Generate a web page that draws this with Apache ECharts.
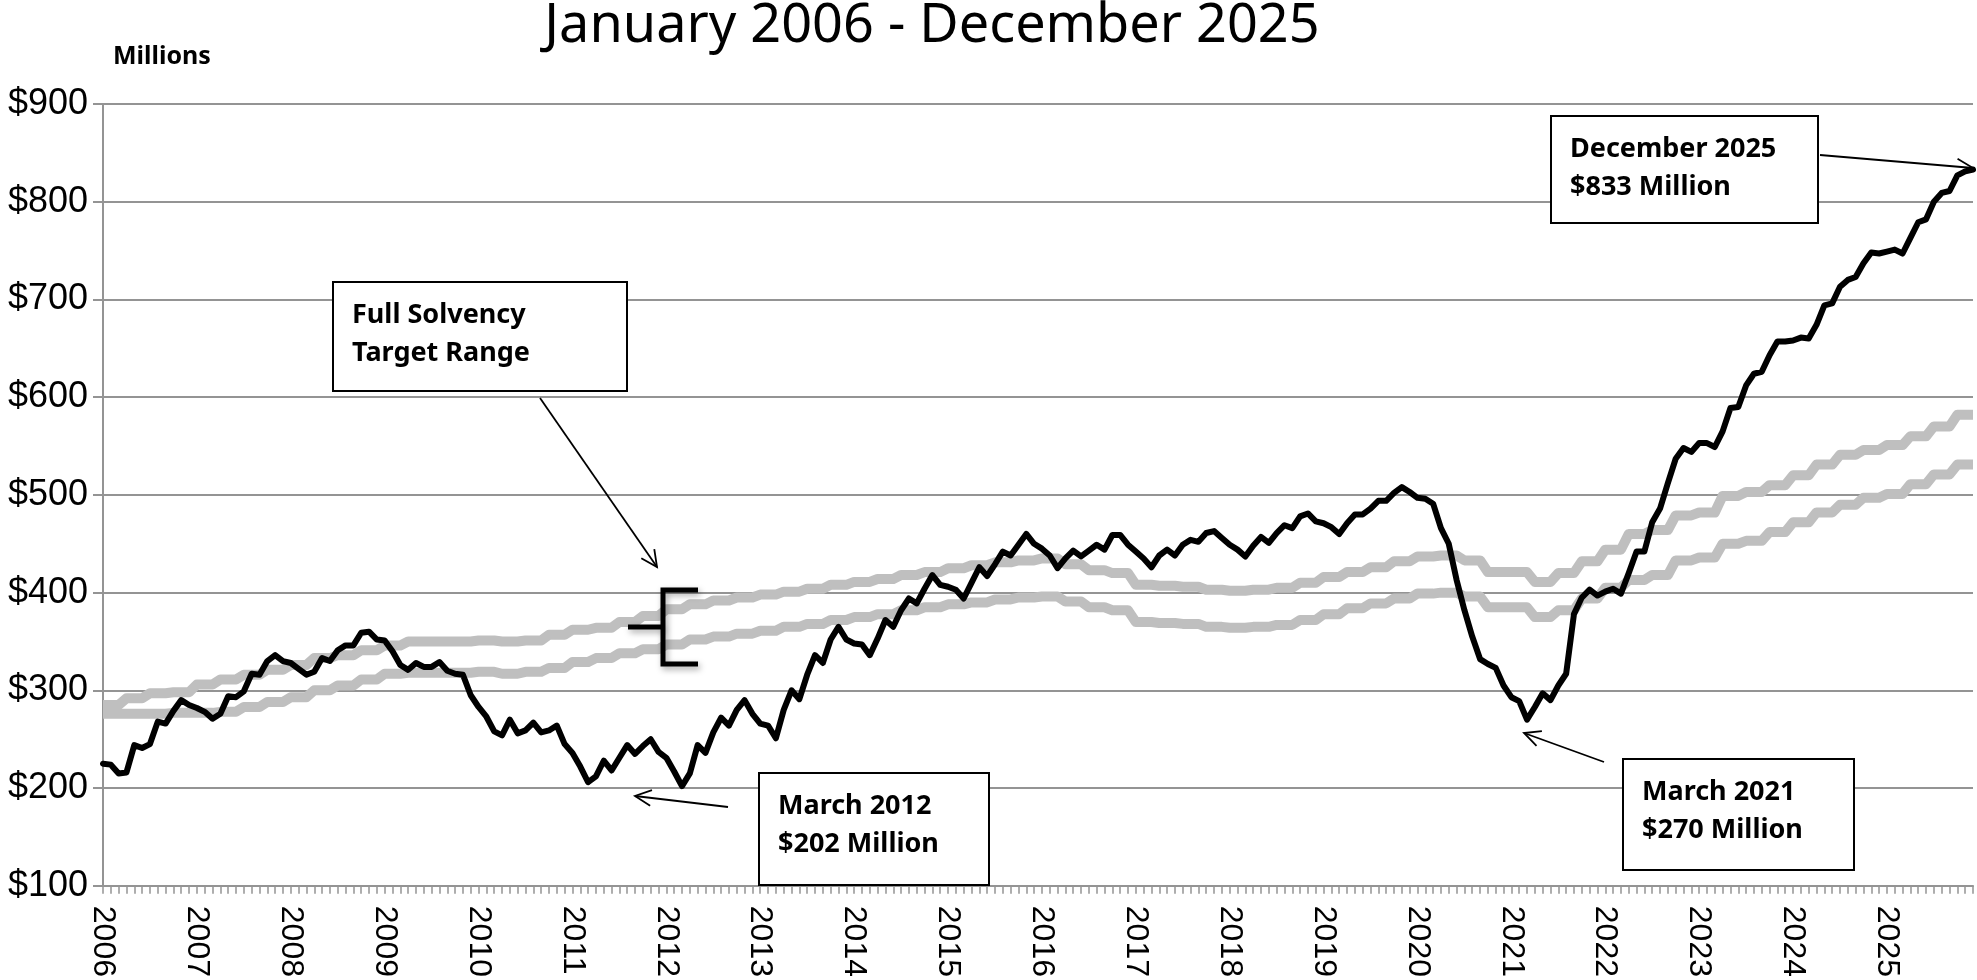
<!DOCTYPE html>
<html>
<head>
<meta charset="utf-8">
<script src="https://cdn.jsdelivr.net/npm/echarts/dist/echarts.min.js"></script>
<style>
  html, body { margin: 0; padding: 0; background: #ffffff; }
  #chart { width: 1977px; height: 980px; }
</style>
</head>
<body>
<div id="chart"></div>
<script>
// ---------------- DATA ----------------
const years = ['2006','2007','2008','2009','2010','2011','2012','2013','2014','2015',
               '2016','2017','2018','2019','2020','2021','2022','2023','2024','2025'];

// Fund balance, $ millions, monthly Jan 2006 - Dec 2025
const fundBalance = [
  225, 224, 215, 216, 244, 241, 245, 268, 266, 279, 290, 285, // 2006
  282, 278, 271, 276, 294, 293, 299, 317, 316, 330, 336, 330, // 2007
  328, 322, 316, 319, 333, 330, 341, 346, 346, 359, 360, 352, // 2008
  351, 340, 326, 321, 328, 324, 324, 329, 320, 317, 316, 295, // 2009
  283, 273, 258, 254, 270, 256, 259, 267, 257, 259, 264, 245, // 2010
  236, 222, 206, 212, 228, 218, 231, 244, 235, 243, 250, 237, // 2011
  231, 217, 202, 215, 244, 236, 257, 272, 264, 280, 290, 276, // 2012
  266, 264, 251, 280, 300, 291, 316, 336, 328, 352, 365, 352, // 2013
  348, 347, 336, 353, 372, 365, 382, 394, 389, 404, 418, 408, // 2014
  406, 403, 394, 410, 426, 417, 429, 442, 438, 449, 460, 450, // 2015
  445, 438, 425, 435, 443, 437, 443, 449, 444, 459, 459, 449, // 2016
  442, 435, 426, 438, 444, 438, 449, 454, 452, 461, 463, 456, // 2017
  449, 444, 437, 448, 457, 451, 461, 469, 466, 478, 481, 473, // 2018
  471, 467, 460, 471, 480, 480, 486, 494, 494, 502, 508, 503, // 2019
  497, 496, 491, 466, 450, 413, 382, 355, 332, 327, 323, 305, // 2020
  293, 289, 270, 283, 297, 290, 305, 317, 378, 395, 403, 397, // 2021
  401, 404, 399, 420, 442, 442, 472, 486, 512, 537, 548, 544, // 2022
  553, 553, 549, 565, 589, 590, 612, 624, 626, 643, 657, 657, // 2023
  658, 661, 660, 674, 694, 696, 713, 720, 723, 737, 748, 747, // 2024
  749, 751, 747, 763, 779, 782, 800, 809, 811, 827, 831, 833  // 2025
];

// Full solvency target range - upper bound, monthly
const targetHigh = [
  285,285,285, 292,292,292, 297,297,297, 298,298,298, // 2006
  306,306,306, 311,311,311, 316,316,316, 321,321,321, // 2007
  326,326,326, 333,333,333, 336,336,336, 341,341,341, // 2008
  346,346,346, 350,350,350, 350,350,350, 350,350,350, // 2009
  351,351,351, 350,350,350, 351,351,351, 357,357,357, // 2010
  362,362,362, 364,364,364, 370,370,370, 376,376,376, // 2011
  383,383,383, 388,388,388, 392,392,392, 395,395,395, // 2012
  398,398,398, 401,401,401, 404,404,404, 408,408,408, // 2013
  411,411,411, 414,414,414, 418,418,418, 421,421,421, // 2014
  425,425,425, 428,428,428, 431,431,431, 433,433,433, // 2015
  435,435,435, 429,429,429, 423,423,423, 420,420,420, // 2016
  408,408,408, 407,407,407, 406,406,406, 403,403,403, // 2017
  402,402,402, 403,403,403, 405,405,405, 410,410,410, // 2018
  416,416,416, 421,421,421, 426,426,426, 432,432,432, // 2019
  437,437,437, 438,438,438, 433,433,433, 421,421,421, // 2020
  421,421,421, 411,411,411, 420,420,420, 432,432,432, // 2021
  444,444,444, 460,460,460, 464,464,464, 479,479,479, // 2022
  482,482,482, 499,499,499, 503,503,503, 510,510,510, // 2023
  520,520,520, 531,531,531, 541,541,541, 546,546,546, // 2024
  551,551,551, 560,560,560, 570,570,570, 582,582,582  // 2025
];

// Full solvency target range - lower bound, monthly
const targetLow = [
  276,276,276, 276,276,276, 276,276,276, 277,277,277, // 2006
  277,277,277, 278,278,278, 283,283,283, 288,288,288, // 2007
  293,293,293, 300,300,300, 305,305,305, 311,311,311, // 2008
  317,317,317, 318,318,318, 318,318,318, 318,318,318, // 2009
  319,319,319, 317,317,317, 319,319,319, 323,323,323, // 2010
  329,329,329, 333,333,333, 338,338,338, 342,342,342, // 2011
  347,347,347, 352,352,352, 355,355,355, 358,358,358, // 2012
  361,361,361, 365,365,365, 368,368,368, 372,372,372, // 2013
  375,375,375, 378,378,378, 382,382,382, 385,385,385, // 2014
  388,388,388, 390,390,390, 393,393,393, 395,395,395, // 2015
  396,396,396, 391,391,391, 385,385,385, 382,382,382, // 2016
  370,370,370, 369,369,369, 368,368,368, 365,365,365, // 2017
  364,364,364, 365,365,365, 367,367,367, 372,372,372, // 2018
  378,378,378, 384,384,384, 389,389,389, 394,394,394, // 2019
  399,399,399, 400,400,400, 396,396,396, 385,385,385, // 2020
  385,385,385, 375,375,375, 382,382,382, 394,394,394, // 2021
  405,405,405, 413,413,413, 418,418,418, 433,433,433, // 2022
  436,436,436, 450,450,450, 453,453,453, 462,462,462, // 2023
  472,472,472, 482,482,482, 490,490,490, 497,497,497, // 2024
  501,501,501, 511,511,511, 521,521,521, 531,531,531  // 2025
];

const yTicks = { min: 100, max: 900, step: 100 };

// Month categories built from the year labels
const months = [];
years.forEach(function (y) {
  for (let m = 1; m <= 12; m++) months.push(y + '-' + (m < 10 ? '0' + m : m));
});

// ---------------- ANNOTATION HELPERS ----------------
function arrowHead(tail, tip, len, deg) {
  const dx = tip[0] - tail[0], dy = tip[1] - tail[1];
  const L = Math.sqrt(dx * dx + dy * dy);
  const ux = dx / L, uy = dy / L;
  const a = deg * Math.PI / 180;
  const c = Math.cos(a), s = Math.sin(a);
  const r1 = [ux * c - uy * s, ux * s + uy * c];
  const r2 = [ux * c + uy * s, -ux * s + uy * c];
  return [[tip[0] - len * r1[0], tip[1] - len * r1[1]], tip, [tip[0] - len * r2[0], tip[1] - len * r2[1]]];
}
function arrow(tail, tip) {
  return [
    { type: 'line', z: 100, shape: { x1: tail[0], y1: tail[1], x2: tip[0], y2: tip[1] },
      style: { stroke: '#000', lineWidth: 1.8 } },
    { type: 'polyline', z: 100, shape: { points: arrowHead(tail, tip, 18, 26) },
      style: { stroke: '#000', lineWidth: 1.8, fill: null } }
  ];
}
const boxFont = 'bold 27px "Noto Sans"';
function box(x, y, w, h, lines) {
  const els = [{ type: 'rect', z: 100, shape: { x: x, y: y, width: w, height: h },
    style: { fill: '#fff', stroke: '#000', lineWidth: 2 } }];
  lines.forEach(function (t, k) {
    els.push({ type: 'text', z: 101, x: x + 19, y: y + 33 + k * 38,
      style: { text: t, font: boxFont, fill: '#000', align: 'left', verticalAlign: 'middle',
               textAlign: 'left', textVerticalAlign: 'middle' } });
  });
  return els;
}

let graphics = [];
graphics.push({ type: 'text', z: 100, x: 932, y: 27,
  style: { text: 'January 2006 - December 2025', font: '400 54px "Noto Sans"', fill: '#000',
           align: 'center', verticalAlign: 'middle', textAlign: 'center', textVerticalAlign: 'middle' } });
graphics.push({ type: 'text', z: 100, x: 113, y: 57,
  style: { text: 'Millions', font: 'bold 25px "Noto Sans"', fill: '#000',
           align: 'left', verticalAlign: 'middle', textAlign: 'left', textVerticalAlign: 'middle' } });

graphics = graphics.concat(box(333, 282, 294, 109, ['Full Solvency', 'Target Range']));
graphics = graphics.concat(box(759, 773, 230, 112, ['March 2012', '$202 Million']));
graphics = graphics.concat(box(1623, 759, 231, 111, ['March 2021', '$270 Million']));
graphics = graphics.concat(box(1551, 116, 267, 107, ['December 2025', '$833 Million']));

graphics = graphics.concat(arrow([540, 398], [657, 567]));
graphics = graphics.concat(arrow([728, 807], [635, 796]));
graphics = graphics.concat(arrow([1604, 762], [1524, 733]));
graphics = graphics.concat(arrow([1820, 155], [1973, 168]));

// bracket marking the target range
graphics.push({ type: 'polyline', z: 90,
  shape: { points: [[698, 590], [663, 590], [663, 664], [698, 664]] },
  style: { stroke: '#000', lineWidth: 5, fill: null,
           shadowBlur: 6, shadowColor: 'rgba(0,0,0,0.35)', shadowOffsetX: 2, shadowOffsetY: 3 } });
graphics.push({ type: 'line', z: 90, shape: { x1: 628, y1: 627, x2: 663, y2: 627 },
  style: { stroke: '#000', lineWidth: 5,
           shadowBlur: 6, shadowColor: 'rgba(0,0,0,0.35)', shadowOffsetX: 2, shadowOffsetY: 3 } });

// ---------------- CHART ----------------
const chart = echarts.init(document.getElementById('chart'), null, { renderer: 'canvas' });
const gridColor = '#949494';
chart.setOption({
  animation: false,
  backgroundColor: '#ffffff',
  grid: { left: 103, right: 4, top: 104, bottom: 93, containLabel: false },
  xAxis: {
    type: 'category',
    data: months,
    boundaryGap: false,
    axisLine: { show: true, lineStyle: { color: gridColor, width: 2 } },
    axisTick: { show: true, interval: 0, length: 8, lineStyle: { color: gridColor, width: 1.5 } },
    axisLabel: {
      interval: 11, rotate: -90, margin: 20,
      fontSize: 32, fontFamily: '"Liberation Sans", Arial, sans-serif', color: '#000',
      formatter: function (v) { return v.slice(0, 4); }
    },
    splitLine: { show: false }
  },
  yAxis: {
    type: 'value',
    min: yTicks.min, max: yTicks.max, interval: yTicks.step,
    axisLine: { show: true, lineStyle: { color: gridColor, width: 2 } },
    axisTick: { show: true, length: 10, lineStyle: { color: gridColor, width: 2 } },
    axisLabel: {
      margin: 15, fontSize: 36, fontFamily: '"Liberation Sans", Arial, sans-serif', color: '#000',
      formatter: function (v) { return '$' + v; }
    },
    splitLine: { show: true, lineStyle: { color: gridColor, width: 2 } }
  },
  series: [
    { name: 'Target High', type: 'line', data: targetHigh, showSymbol: false, symbol: 'none',
      clip: false, z: 2, lineStyle: { color: '#bfbfbf', width: 10, join: 'round', cap: 'butt' } },
    { name: 'Target Low', type: 'line', data: targetLow, showSymbol: false, symbol: 'none',
      clip: false, z: 2, lineStyle: { color: '#bfbfbf', width: 10, join: 'round', cap: 'butt' } },
    { name: 'Fund Balance', type: 'line', data: fundBalance, showSymbol: false, symbol: 'none',
      clip: false, z: 3, lineStyle: { color: '#000000', width: 6, join: 'round', cap: 'round' } }
  ],
  graphic: graphics
});
</script>
</body>
</html>
